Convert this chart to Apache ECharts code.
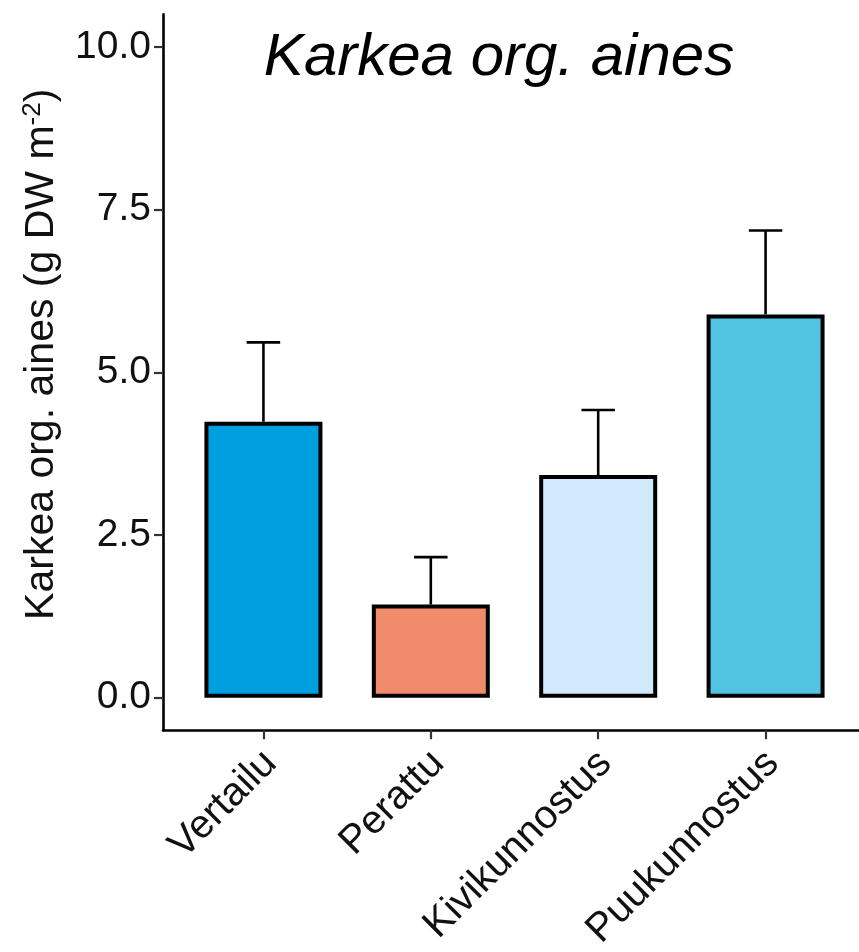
<!DOCTYPE html>
<html>
<head>
<meta charset="utf-8">
<script src="https://cdn.jsdelivr.net/npm/echarts@6/dist/echarts.min.js"></script>
<style>
html,body{margin:0;padding:0;background:#fff;}
#c{width:859px;height:952px;}
</style>
</head>
<body>
<div id="c"></div>
<script>
var categories = ['Vertailu', 'Perattu', 'Kivikunnostus', 'Puukunnostus'];
var means = [4.24, 1.43, 3.42, 5.89];
var upperErr = [5.46, 2.16, 4.42, 7.18];
var barColors = ['#009fe0', '#f08b6b', '#d1e9fa', '#50c4e0'];
var yTicks = [0, 2.5, 5, 7.5, 10];
var titleText = 'Karkea org. aines';

var FONT = 'Liberation Sans, Arial, Helvetica, sans-serif';
var positions = categories.map(function (c, i) { return i + 1; });

var barData = means.map(function (m, i) {
  return { value: [positions[i], m], itemStyle: { color: barColors[i] } };
});
var errData = means.map(function (m, i) {
  return [positions[i], m, upperErr[i]];
});

var chart = echarts.init(document.getElementById('c'), null, { renderer: 'canvas' });
chart.setOption({
  backgroundColor: '#fff',
  animation: false,
  title: {
    text: titleText,
    left: 494,
    textAlign: 'center',
    top: 23,
    textStyle: { fontFamily: FONT, fontSize: 60, fontStyle: 'italic', fontWeight: 'normal', color: '#000' }
  },
  grid: { left: 163, right: -7, top: 14.4, bottom: 221.8, containLabel: false, outerBoundsMode: 'none' },
  xAxis: {
    type: 'value',
    min: 0.4,
    max: 4.6,
    axisLine: { show: true, onZero: false, lineStyle: { color: '#000', width: 2.6 } },
    axisTick: { show: true, customValues: positions, length: 9, lineStyle: { color: '#333', width: 2.2 } },
    axisLabel: {
      show: true,
      customValues: positions,
      rotate: 45,
      margin: 20,
      verticalAlign: 'top',
      lineHeight: 20,
      fontFamily: FONT,
      fontSize: 40,
      color: '#111',
      formatter: function (v) { return categories[Math.round(v) - 1] || ''; }
    },
    splitLine: { show: false }
  },
  yAxis: {
    type: 'value',
    min: -0.5,
    max: 10.5,
    name: 'Karkea org. aines (g DW m{sup|-2})',
    nameLocation: 'middle',
    nameGap: 99,
    nameTextStyle: {
      fontFamily: FONT, fontSize: 41, color: '#111',
      padding: [0, 0, 0, 36],
      rich: { sup: { fontFamily: FONT, fontSize: 26, color: '#111', verticalAlign: 'top', padding: [0, 0, 18, 0] } }
    },
    axisLine: { show: true, onZero: false, lineStyle: { color: '#000', width: 2.6 } },
    axisTick: { show: true, customValues: yTicks, length: 9, lineStyle: { color: '#333', width: 2.2 } },
    axisLabel: {
      show: true,
      customValues: yTicks,
      margin: 12,
      fontFamily: FONT,
      fontSize: 39,
      color: '#111',
      formatter: function (v) { return v.toFixed(1); }
    },
    splitLine: { show: false }
  },
  series: [
    {
      type: 'bar',
      data: barData,
      barWidth: 118,
      itemStyle: { borderColor: '#000', borderWidth: 4 },
      z: 2
    },
    {
      type: 'custom',
      data: errData,
      z: 3,
      renderItem: function (params, api) {
        var x = api.value(0);
        var lo = api.coord([x, api.value(1)]);
        var hi = api.coord([x, api.value(2)]);
        var half = api.size([0.1, 0])[0];
        var st = { stroke: '#000', lineWidth: 2.6 };
        return {
          type: 'group',
          children: [
            { type: 'line', shape: { x1: hi[0], y1: lo[1], x2: hi[0], y2: hi[1] }, style: st },
            { type: 'line', shape: { x1: hi[0] - half, y1: hi[1], x2: hi[0] + half, y2: hi[1] }, style: st }
          ]
        };
      }
    }
  ]
});
</script>
</body>
</html>
